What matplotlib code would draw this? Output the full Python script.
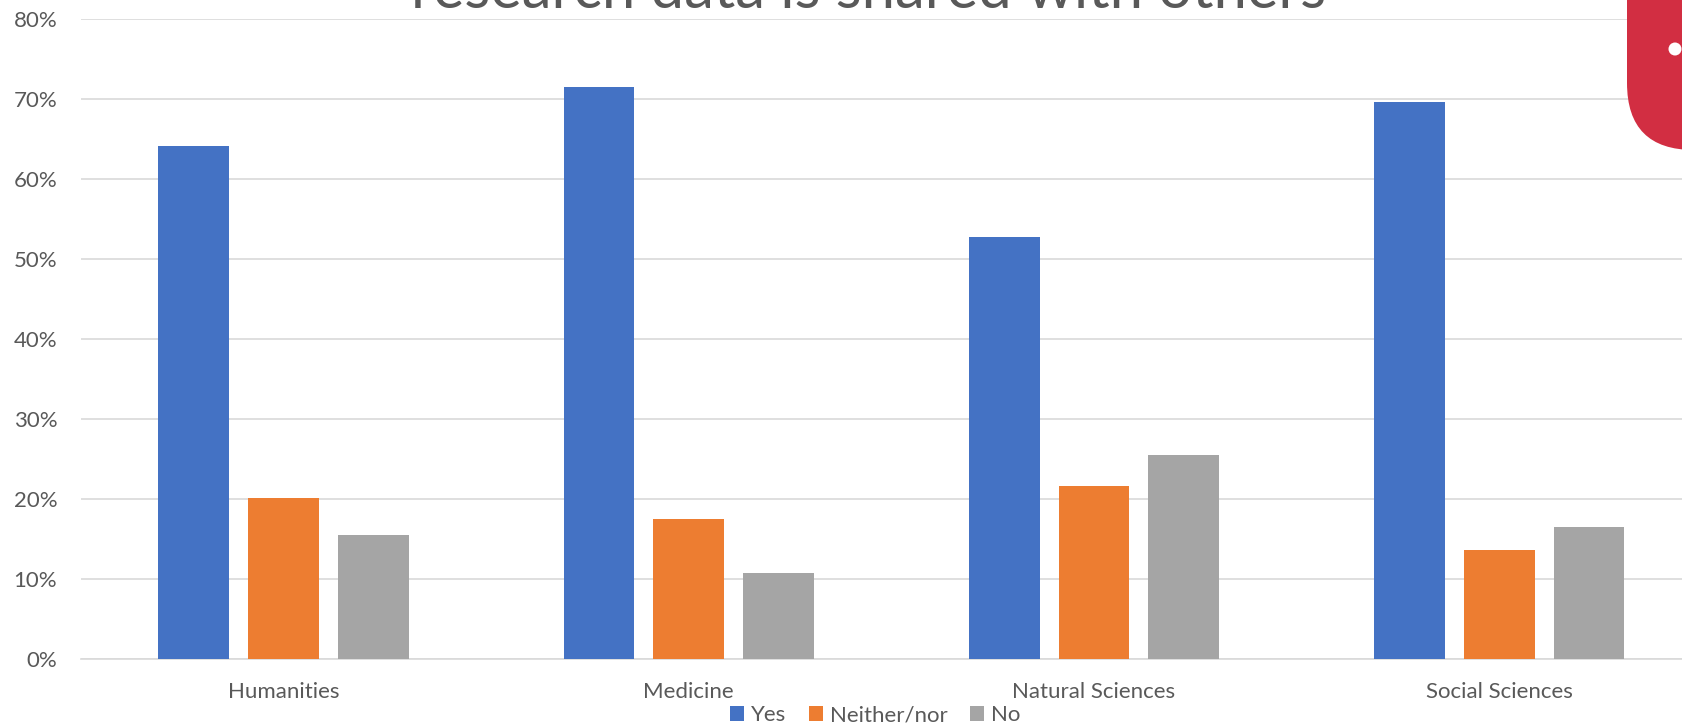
import matplotlib.pyplot as plt
import numpy as np
from matplotlib.patches import FancyBboxPatch, Circle

# data (share of respondents)
categories = ['Humanities', 'Medicine', 'Natural Sciences', 'Social Sciences']
yes_vals = [0.642, 0.716, 0.528, 0.697]
neither_vals = [0.201, 0.175, 0.216, 0.137]
no_vals = [0.156, 0.108, 0.255, 0.165]
series_names = ['Yes', 'Neither/nor', 'No']
tick_vals = [0, 0.1, 0.2, 0.3, 0.4, 0.5, 0.6, 0.7, 0.8]
title = 'research data is shared with others'

colors = ['#4472C4', '#ED7D31', '#A5A5A5']
text_color = '#595959'
grid_color = '#D9D9D9'

plt.rcParams['font.family'] = ['Lato', 'DejaVu Sans']

W, H = 1683, 725
fig = plt.figure(figsize=(W / 100, H / 100), dpi=100)

# plot area runs a little past the right edge, like the cropped original
left, right = 80.8, 1702
bottom, top = 659.3, 19.3
ax = fig.add_axes([left / W, 1 - bottom / H, (right - left) / W, (bottom - top) / H])

x = np.arange(len(categories))
width = 0.1745  # bar width
step = 0.2213   # distance between bars in a group

for i, (vals, name) in enumerate(zip([yes_vals, neither_vals, no_vals], series_names)):
    ax.bar(x + (i - 1) * step, vals, width, color=colors[i], label=name, zorder=3)

ax.set_xlim(-0.5, len(categories) - 0.5)
ax.set_ylim(0, 0.8)
ax.set_yticks(tick_vals)
ax.set_yticklabels(['{:.0f}%'.format(v * 100) for v in tick_vals])
ax.set_xticks(x)
ax.set_xticklabels(categories)
ax.tick_params(axis='both', length=0, labelsize=16, labelcolor=text_color)
ax.tick_params(axis='y', pad=17)
ax.tick_params(axis='x', pad=16)

ax.grid(axis='y', color=grid_color, linewidth=1.2, zorder=0)
for side in ['top', 'right', 'left']:
    ax.spines[side].set_visible(False)
ax.spines['bottom'].set_color(grid_color)
ax.spines['bottom'].set_linewidth(1.2)

# title sits mostly above the visible area, as in the original
fig.text(869 / W, 1 - 7.5 / H, title, ha='center', va='baseline',
         fontsize=43, color=text_color)

handles, labels = ax.get_legend_handles_labels()
fig.legend(handles, labels, loc='center', bbox_to_anchor=(875 / W, 10 / H), ncol=3,
           frameon=False, fontsize=16, labelcolor=text_color,
           handlelength=0.65, handleheight=0.65, handletextpad=0.3, columnspacing=1.0)

# red decoration at the top right corner
over = fig.add_axes([0, 0, 1, 1], zorder=5)
over.set_xlim(0, W)
over.set_ylim(H, 0)
over.axis('off')
over.patch.set_alpha(0)
over.add_patch(FancyBboxPatch((1627, -200), 300, 350,
                              boxstyle='round,pad=0,rounding_size=67',
                              facecolor='#D22E42', edgecolor='none'))
over.add_patch(Circle((1675, 49), 6.5, facecolor='white', edgecolor='none'))

fig.savefig('out.png', dpi=100)
